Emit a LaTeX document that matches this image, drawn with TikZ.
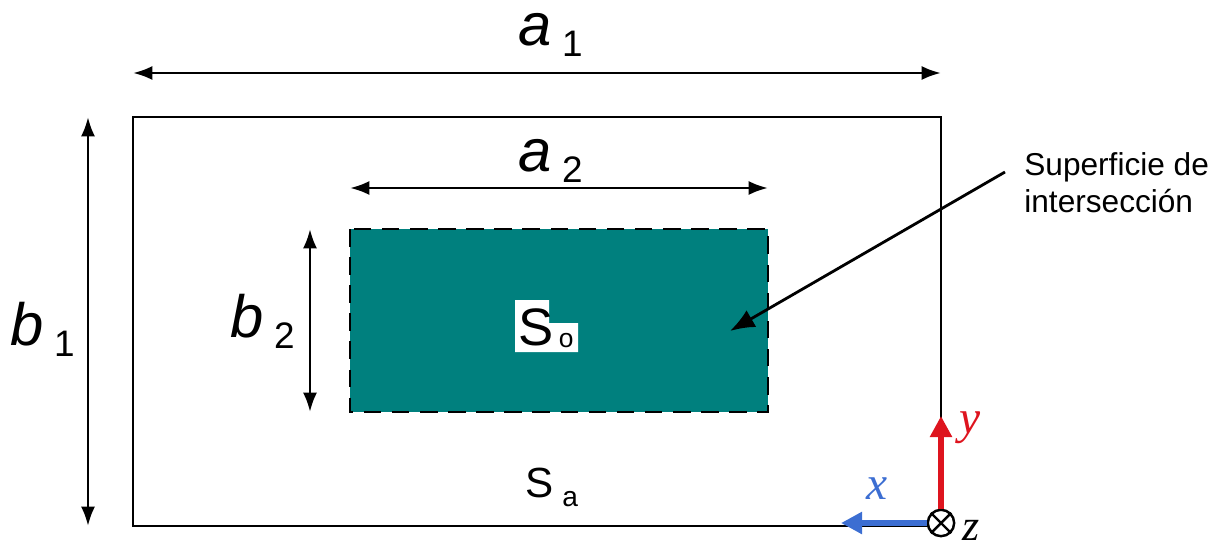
\documentclass[tikz,border=0pt]{standalone}
\usepackage{fontspec}
\setmainfont{Liberation Serif}
\setsansfont{Liberation Sans}
\usetikzlibrary{arrows.meta}
\definecolor{tealfill}{RGB}{0,128,126}
\definecolor{axisred}{RGB}{222,20,30}
\definecolor{axisblue}{RGB}{60,110,210}
\newcommand{\dimlabel}[2]{\sffamily\fontsize{34}{38}\selectfont\itshape #1\kern6pt\raisebox{-6.5pt}{\upshape\fontsize{21}{24}\selectfont #2}}

\begin{document}
\begin{tikzpicture}[x=0.02cm, y=-0.02cm,
  frame/.style={draw, line width=1.6pt},
  dimarr/.style={{Latex[length=11pt,width=8pt]}-{Latex[length=11pt,width=8pt]}, line width=1.6pt},
  lbl/.style={inner sep=0pt, anchor=base west},
  axis/.style={-{Triangle[length=12pt,width=12pt]}, line width=3.6pt}
]
\useasboundingbox (0,0) rectangle (1231,551);

% outer and inner surfaces
\draw[frame] (133,117) rectangle (941,526);
\fill[tealfill] (350,229) rectangle (768,412);
\draw[line width=1.6pt, dash pattern=on 10pt off 6pt] (350,229) rectangle (768,412);

\coordinate (a1l) at (133,73);
\coordinate (a1r) at (941,73);
\coordinate (a2l) at (350,188);
\coordinate (a2r) at (768,188);
\coordinate (b1t) at (88,117);
\coordinate (b1b) at (88,526);
\coordinate (b2t) at (310,229);
\coordinate (b2b) at (310,412);

\draw[dimarr] (a1l) -- (a1r);
\draw[dimarr] (a2l) -- (a2r);
\draw[dimarr] (b1t) -- (b1b);
\draw[dimarr] (b2t) -- (b2b);

\node[lbl] (la1) at (518,45) {\dimlabel{a}{1}};
\node[lbl] (la2) at (518,171) {\dimlabel{a}{2}};
\node[lbl] (lb1) at (10,345) {\dimlabel{b}{1}};
\node[lbl] (lb2) at (230,337) {\dimlabel{b}{2}};

% white patch behind S_o
\fill[white] (515,300) rectangle (549,352) (549,323) rectangle (578,352);
\node[lbl] (so) at (518,345) {\sffamily\fontsize{30}{34}\selectfont S\kern3pt\raisebox{-1.5pt}{\fontsize{15}{18}\selectfont o}};
\node[lbl] (sa) at (525,497) {\sffamily\fontsize{24}{28}\selectfont S\kern5pt\raisebox{-5.5pt}{\fontsize{16}{18}\selectfont a}};

% annotation
\node[align=left, inner sep=0pt, anchor=north west, font=\sffamily\fontsize{18}{21}\selectfont] (note) at (1024,152) {Superficie de\\intersecci\'on};
\coordinate (target) at (730,331);
\draw[line width=1.6pt, -{Latex[length=14pt,width=11pt]}] (1005,172) -- (target);

% axes
\node[circle, draw, line width=1.4pt, fill=white, minimum size=15pt, inner sep=0pt] (orig) at (941,523) {};
\draw[line width=1.4pt] (orig.north west) -- (orig.south east) (orig.north east) -- (orig.south west);
\coordinate (yend) at (941,416);
\coordinate (xend) at (841,523);
\draw[axis, axisred] (orig.north) -- (yend);
\draw[axis, axisblue] (orig.west) -- (xend);
\node[text=axisred] (ly) at (970,428) {\fontsize{27}{30}\selectfont\itshape y};
\node[text=axisblue] (lx) at (877,489) {\fontsize{27}{30}\selectfont\itshape x};
\node[inner sep=0pt, anchor=base] (lz) at (971,540) {\fontsize{25}{30}\selectfont\itshape z};
\end{tikzpicture}
\end{document}
